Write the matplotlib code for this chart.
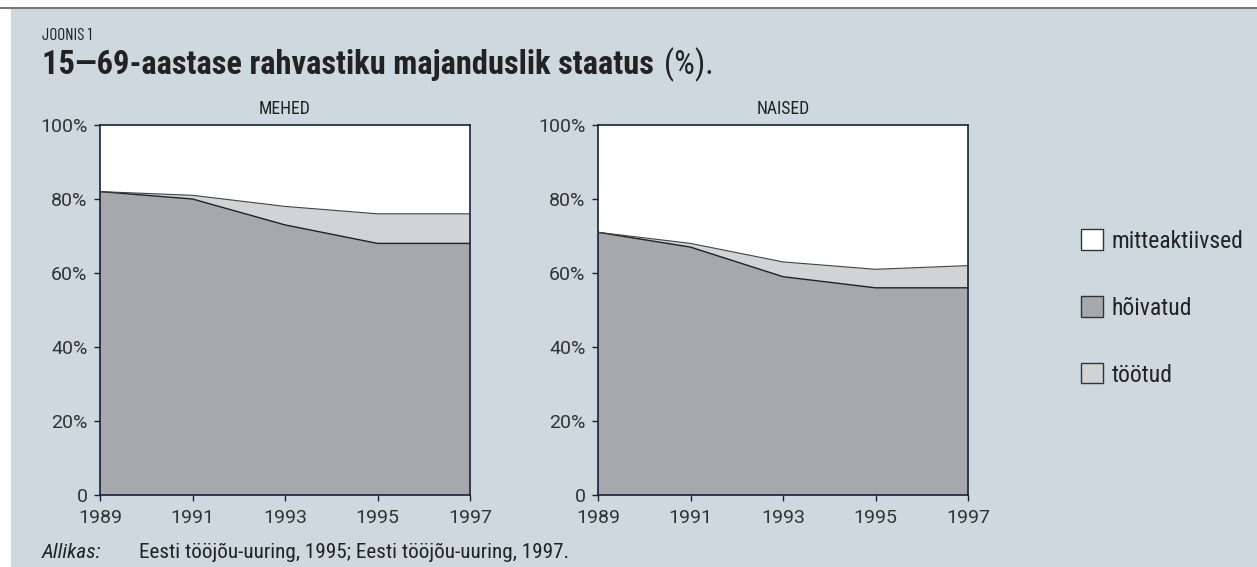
import matplotlib.pyplot as plt
from matplotlib.patches import Rectangle, Patch

years = [1989, 1991, 1993, 1995, 1997]

# hõivatud / töötud in %, the rest is mitteaktiivsed
men_employed = [82, 80, 73, 68, 68]
men_unemployed = [0, 1, 5, 8, 8]
women_employed = [71, 67, 59, 56, 56]
women_unemployed = [0, 1, 4, 5, 6]

labels = ['mitteaktiivsed', 'hõivatud', 'töötud']
panel_titles = ['MEHED', 'NAISED']

BG = '#cdd8df'
DARK = '#1b1f3b'
C_EMP = '#a7a8ac'
C_UNEMP = '#d1d3d5'
FONT = ['Roboto Condensed', 'Archivo Narrow', 'Liberation Sans Narrow', 'DejaVu Sans']
FONT_TICK = ['Roboto', 'DejaVu Sans']
FONT_SMALLCAP = ['Barlow Condensed', 'Roboto Condensed', 'DejaVu Sans']

plt.rcParams['font.family'] = FONT
plt.rcParams['text.color'] = '#222222'

fig = plt.figure(figsize=(12.57, 5.67), dpi=100)
W, H = 1257, 567
renderer = fig.canvas.get_renderer()


def fit(txt, width_px):
    # scale the font so the text is as wide as in the original
    w = txt.get_window_extent(renderer).width
    txt.set_fontsize(txt.get_fontsize() * width_px / w)
    return txt.get_fontsize()


# panel background and top rule
fig.patches.append(Rectangle((11 / W, 0), 1, 1 - 9 / H, transform=fig.transFigure,
                             facecolor=BG, edgecolor='none', zorder=-10))
fig.lines.append(plt.Line2D([0, 1], [1 - 8 / H, 1 - 8 / H], transform=fig.transFigure,
                            color='#777777', lw=1.5, zorder=-5))

t0 = fig.text(42 / W, 1 - 35 / H, 'JOONIS 1', fontsize=16, va='center', ha='left',
              family=FONT_SMALLCAP)
fit(t0, 50)
t = fig.text(42 / W, 1 - 65 / H, '15—69-aastase rahvastiku majanduslik staatus',
             fontsize=23, fontweight='bold', va='center', ha='left')
title_size = fit(t, 615)


def axes_box(x0, x1, y0=125, y1=495):
    return [x0 / W, 1 - y1 / H, (x1 - x0) / W, (y1 - y0) / H]


data = [(men_employed, men_unemployed), (women_employed, women_unemployed)]
boxes = [axes_box(100, 470), axes_box(598, 968)]

# tick label size from the width of "100%"
probe = fig.text(0, 0, '100%', fontsize=13, family=FONT_TICK)
tick_size = fit(probe, 47)
probe.remove()

for (emp, unemp), box, title in zip(data, boxes, panel_titles):
    ax = fig.add_axes(box)
    ax.set_facecolor('white')
    total = [e + u for e, u in zip(emp, unemp)]
    ax.fill_between(years, 0, emp, facecolor=C_EMP, edgecolor='none', zorder=2)
    ax.fill_between(years, emp, total, facecolor=C_UNEMP, edgecolor='none', zorder=2)
    ax.plot(years, emp, color='#222222', lw=1, zorder=3)
    ax.plot(years, total, color='#444444', lw=0.8, zorder=3)
    ax.set_xlim(1989, 1997)
    ax.set_ylim(0, 100)
    ax.set_xticks(years)
    ax.set_yticks([0, 20, 40, 60, 80, 100])
    ax.set_yticklabels(['0', '20%', '40%', '60%', '80%', '100%'])
    ax.tick_params(direction='out', length=4, width=1, color=DARK, labelsize=tick_size,
                   labelcolor='#333333')
    ax.tick_params(axis='x', pad=6)
    ax.tick_params(axis='y', pad=5)
    for lab in ax.get_xticklabels() + ax.get_yticklabels():
        lab.set_family(FONT_TICK)
    for s in ax.spines.values():
        s.set_color(DARK)
        s.set_linewidth(1.2)
    ttl = ax.set_title(title, fontsize=12.5, pad=8, color='#222222')
    if title == 'MEHED':
        fit(ttl, 52)
    else:
        ttl.set_fontsize(fig.axes[0].title.get_fontsize())

# "(%)." after the bold title, regular weight
bb = t.get_window_extent(renderer)
fig.text(bb.x1 / W + 10 / W, 1 - 65 / H, '(%).', fontsize=title_size, va='center', ha='left')

probe = fig.text(0, 0, labels[0], fontsize=16)
leg_size = fit(probe, 132)
probe.remove()
px = leg_size * 100 / 72
handles = [Patch(facecolor='white', edgecolor='#333333'),
           Patch(facecolor=C_EMP, edgecolor='#333333'),
           Patch(facecolor=C_UNEMP, edgecolor='#333333')]
fig.legend(handles, labels, loc='center left',
           bbox_to_anchor=((1069 - 0.4 * px) / W, 1 - 308 / H),
           frameon=False, fontsize=leg_size, handlelength=22 / px, handleheight=22 / px,
           handletextpad=9 / px, labelspacing=(71.5 - 1.17 * px) / px)

a = fig.text(42 / W, 1 - 552 / H, 'Allikas:', fontsize=13, style='italic', va='center')
fit(a, 59)
src = fig.text(139 / W, 1 - 552 / H,
               'Eesti tööjõu-uuring, 1995; Eesti tööjõu-uuring, 1997.',
               fontsize=13, va='center')
fit(src, 427)

fig.savefig('out.png', dpi=100, facecolor='white')
